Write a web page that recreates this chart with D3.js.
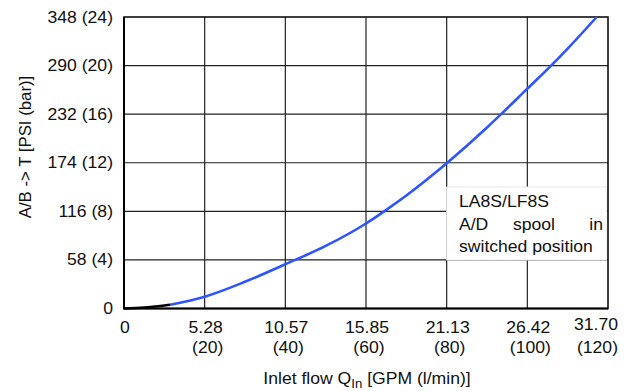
<!DOCTYPE html>
<html>
<head>
<meta charset="utf-8">
<script src="https://cdn.jsdelivr.net/npm/d3@7"></script>
<style>
  body { margin: 0; background: #fff; }
  svg { display: block; font-family: Arial, "Liberation Sans", sans-serif; }
</style>
</head>
<body>
<svg id="chart" width="629" height="391"></svg>
<script>
// Flow in l/min, pressure drop in bar
var flowLpm  = [0, 5, 10, 11.5, 20, 30, 40, 50, 60, 64.5, 70, 80, 90, 93.5, 100, 105.9, 110, 117.2];
var dropBar  = [0, 0.08, 0.25, 0.31, 0.97, 2.2, 3.64, 5.15, 7.0, 8, 9.3, 11.95, 14.9, 16, 18.1, 20, 21.4, 24];
var blackUpTo = 11.5;   // first part of the curve is drawn black

var xTicks = [0, 20, 40, 60, 80, 100, 120];
var xGpm   = ["0", "5.28", "10.57", "15.85", "21.13", "26.42", "31.70"];
var xLpm   = ["", "(20)", "(40)", "(60)", "(80)", "(100)", "(120)"];

var yTicks = [0, 4, 8, 12, 16, 20, 24];
var yLabels = ["0", "58 (4)", "116 (8)", "174 (12)", "232 (16)", "290 (20)", "348 (24)"];

var legendLines = ["LA8S/LF8S", "A/D spool in", "switched position"];

var STRETCH = 1.1;  // the reference text is a bit wider than plain Arial

window.onload = function() {
   drawChart();
};

// text placed at (px,py) and stretched horizontally
function wideText(sel, px, py, anchor) {
   return sel.append("text")
      .attr("transform", "translate(" + px + "," + py + ") scale(" + STRETCH + ",1)")
      .attr("text-anchor", anchor || "start");
}

function drawChart() {
   var svg = d3.select("#chart");

   var x = d3.scaleLinear().domain([0, 120]).range([124, 608]);
   var y = d3.scaleLinear().domain([0, 24]).range([308.5, 17]);

   var pts = flowLpm.map(function(f, i){ return [f, dropBar[i]]; });

   // grid
   svg.append("g")
      .selectAll("line")
      .data(xTicks.slice(1, -1))
      .enter().append("line")
         .attr("x1", function(d){ return x(d); })
         .attr("x2", function(d){ return x(d); })
         .attr("y1", y(0)).attr("y2", y(24))
         .style("stroke", "#222")
         .style("stroke-width", 1.2);

   svg.append("g")
      .selectAll("line")
      .data(yTicks.slice(1, -1))
      .enter().append("line")
         .attr("y1", function(d){ return y(d); })
         .attr("y2", function(d){ return y(d); })
         .attr("x1", x(0)).attr("x2", x(120))
         .style("stroke", "#222")
         .style("stroke-width", 1.2);

   // legend box sits above the grid
   var lx = x(80), rx = x(120) - 1;
   svg.append("rect")
      .attr("x", lx).attr("y", 187)
      .attr("width", rx - lx).attr("height", 73)
      .style("fill", "#fff")
      .style("stroke", "#e8e8e8")
      .style("stroke-width", 1);

   var leg = svg.append("g").style("font-size", "16px").style("fill", "#111");
   wideText(leg, 459, 207).text(legendLines[0]);
   // justified middle line
   var words = legendLines[1].split(" ");
   wideText(leg, 459, 229.5).text(words[0]);
   wideText(leg, 534, 229.5, "middle").text(words[1]);
   wideText(leg, 603, 229.5, "end").text(words[2]);
   wideText(leg, 459, 252).text(legendLines[2]);

   // frame
   svg.append("rect")
      .attr("x", x(0)).attr("y", y(24))
      .attr("width", x(120) - x(0)).attr("height", y(0) - y(24))
      .style("fill", "none")
      .style("stroke", "#000")
      .style("stroke-width", 1.5);
   svg.append("path")
      .attr("d", "M" + x(0) + "," + y(24) + "V" + y(0) + "H" + x(120))
      .style("fill", "none")
      .style("stroke", "#000")
      .style("stroke-width", 2);

   // curve
   var line = d3.line()
      .x(function(d){ return x(d[0]); })
      .y(function(d){ return y(d[1]); })
      .curve(d3.curveMonotoneX);

   var blue = pts.filter(function(d){ return d[0] >= blackUpTo; });
   var black = pts.filter(function(d){ return d[0] <= blackUpTo; });

   svg.append("path")
      .attr("d", line(blue))
      .style("fill", "none")
      .style("stroke", "#2d55ff")
      .style("stroke-width", 2.6);
   svg.append("path")
      .attr("d", line(black))
      .style("fill", "none")
      .style("stroke", "#000")
      .style("stroke-width", 2.6);

   // y tick labels
   var yl = svg.append("g").style("font-size", "16px").style("fill", "#111");
   yTicks.forEach(function(d, i){
      wideText(yl, 113, y(d) + 5.5, "end").text(yLabels[i]);
   });

   // x tick labels, two lines
   var xl = svg.append("g").style("font-size", "16px").style("fill", "#111");
   xTicks.forEach(function(d, i){
      var last = i == xTicks.length - 1;
      wideText(xl, last ? 618 : x(d) + 1, last ? 330 : 333, last ? "end" : "middle").text(xGpm[i]);
      wideText(xl, last ? 618 : x(d) + 3, 353, last ? "end" : "middle").text(xLpm[i]);
   });

   // axis titles
   svg.append("text")
      .attr("transform", "translate(31,147) rotate(-90) scale(1.05,1)")
      .attr("text-anchor", "middle")
      .style("font-size", "16px")
      .style("fill", "#111")
      .text("A/B -> T [PSI (bar)]");

   var t = svg.append("text")
      .attr("transform", "translate(367,383.5) scale(" + STRETCH + ",1)")
      .attr("text-anchor", "middle")
      .style("font-size", "16px")
      .style("fill", "#111");
   t.append("tspan").text("Inlet flow Q");
   t.append("tspan").attr("dy", 4).style("font-size", "12px").text("In");
   t.append("tspan").attr("dy", -4).text(" [GPM (l/min)]");
}
</script>
</body>
</html>
